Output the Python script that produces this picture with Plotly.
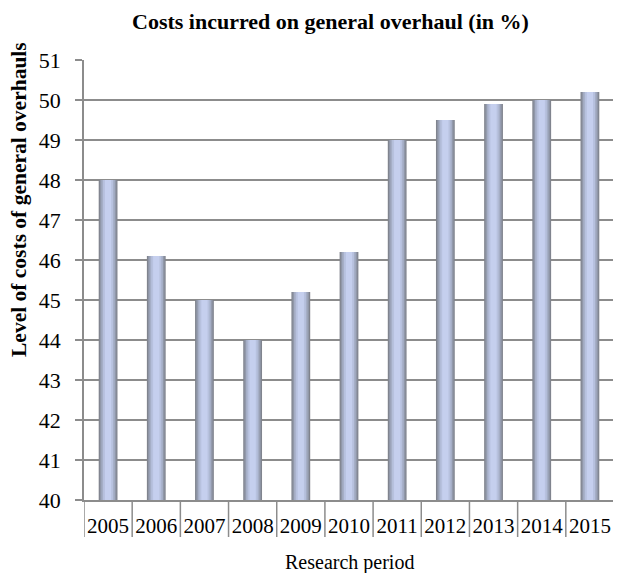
import plotly.graph_objects as go

years = ["2005", "2006", "2007", "2008", "2009", "2010", "2011", "2012", "2013", "2014", "2015"]
costs = [48.0, 46.1, 45.0, 44.0, 45.2, 46.2, 49.0, 49.5, 49.9, 50.0, 50.2]
y_ticks = list(range(40, 52))

FONT = "Liberation Serif"
GRID = "#8c8c8c"

# layered bars to mimic the cylindrical shading
layers = [
    (0.39, "#80848e"),
    (0.34, "#9097a8"),
    (0.28, "#a5aec6"),
    (0.21, "#b7c1de"),
    (0.13, "#c5cfee"),
]

fig = go.Figure()
for w, c in layers:
    fig.add_trace(go.Bar(
        x=years, y=costs, width=w, marker=dict(color=c, line=dict(width=0)),
        hoverinfo="x+y", showlegend=False,
    ))

PW, PH = 530, 440  # plot area size in px

# category separators below the x axis
shapes = []
for i in range(len(years) + 1):
    shapes.append(dict(type="line", xref="x", yref="paper",
                       x0=i - 0.5, x1=i - 0.5, y0=0, y1=-37 / PH,
                       line=dict(color=GRID, width=1.5)))

fig.update_layout(
    width=613, height=565,
    margin=dict(l=76, r=7, t=52, b=73),
    paper_bgcolor="white", plot_bgcolor="white",
    barmode="overlay",
    font=dict(family=FONT, color="black"),
    shapes=shapes,
    xaxis=dict(
        type="category", range=[-0.5, len(years) - 0.5],
        showgrid=False, showline=True, linecolor=GRID, linewidth=1.5,
        ticks="outside", ticklen=6, tickcolor="rgba(0,0,0,0)",
        tickfont=dict(size=21, family=FONT, color="black"),
        fixedrange=True,
    ),
    yaxis=dict(
        range=[40, 51], tickvals=y_ticks, ticktext=[str(v) for v in y_ticks],
        showgrid=True, gridcolor=GRID, gridwidth=1.5,
        showline=True, linecolor=GRID, linewidth=1.5,
        ticks="outside", ticklen=7, tickcolor=GRID, tickwidth=1.5,
        ticklabelstandoff=10,
        tickfont=dict(size=22, family=FONT, color="black"),
        zeroline=False,
    ),
    annotations=[
        dict(text="<b>Costs incurred on general overhaul (in %)</b>",
             xref="paper", yref="paper", x=(322 - 76) / PW, y=(PH + 38) / PH,
             xanchor="center", yanchor="middle", showarrow=False,
             font=dict(size=22, family=FONT, color="black")),
        dict(text="<b>Level of costs of general overhauls</b>",
             xref="paper", yref="paper", x=(11 - 76) / PW, y=(492 - 192) / PH,
             textangle=-90,
             xanchor="center", yanchor="middle", showarrow=False,
             font=dict(size=21.5, family=FONT, color="black")),
        dict(text="Research period",
             xref="paper", yref="paper", x=0.5, y=(492 - 554) / PH,
             xanchor="center", yanchor="middle", showarrow=False,
             font=dict(size=20, family=FONT, color="black")),
    ],
)

fig.write_html("out.html")
